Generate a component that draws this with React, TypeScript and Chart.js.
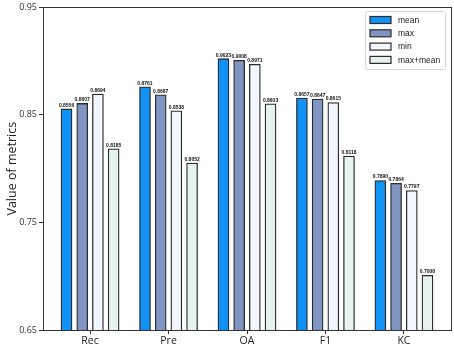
import React, { useEffect, useRef } from "react";
import { Chart, registerables } from "chart.js";

Chart.register(...registerables);

const categories = ["Rec", "Pre", "OA", "F1", "KC"];
const seriesNames = ["mean", "max", "min", "max+mean"];
const meanValues = [0.8556, 0.8761, 0.9023, 0.8657, 0.789];
const maxValues = [0.8607, 0.8687, 0.9008, 0.8647, 0.7864];
const minValues = [0.8694, 0.8538, 0.8971, 0.8615, 0.7797];
const maxMeanValues = [0.8185, 0.8052, 0.8603, 0.8118, 0.7008];
const yTicks = [0.65, 0.75, 0.85, 0.95];

const seriesValues = [meanValues, maxValues, minValues, maxMeanValues];
const colors = ["#1192F5", "#8095C2", "#F2F6FE", "#E5F3EE"];
const edge = "#2b2b2b";

const boxPlugin = {
  id: "boxAndLabels",
  afterDatasetsDraw(chart: any) {
    const { ctx, chartArea } = chart;
    ctx.save();
    // value labels
    ctx.font = "bold 5px 'Liberation Sans'";
    ctx.fillStyle = "#111";
    ctx.textAlign = "center";
    ctx.textBaseline = "bottom";
    chart.data.datasets.forEach((ds: any, di: number) => {
      const meta = chart.getDatasetMeta(di);
      meta.data.forEach((bar: any, i: number) => {
        const v = seriesValues[di][i];
        ctx.fillText(v.toFixed(4), bar.x, bar.y - 1);
      });
    });
    // frame
    ctx.strokeStyle = "#333";
    ctx.lineWidth = 1;
    ctx.strokeRect(
      Math.round(chartArea.left) + 0.5,
      Math.round(chartArea.top) + 0.5,
      Math.round(chartArea.right - chartArea.left),
      Math.round(chartArea.bottom - chartArea.top)
    );
    // legend
    const lx = 365, ly = 11, lw = 80, lh = 58;
    ctx.fillStyle = "rgba(255,255,255,0.9)";
    ctx.strokeStyle = "#d6d6d6";
    ctx.lineWidth = 1;
    ctx.beginPath();
    ctx.roundRect(lx + 0.5, ly + 0.5, lw, lh, 2);
    ctx.fill();
    ctx.stroke();
    ctx.font = "8.5px 'Liberation Sans'";
    ctx.textAlign = "left";
    ctx.textBaseline = "middle";
    seriesNames.forEach((name, i) => {
      const cy = ly + 9 + i * 13.3;
      ctx.fillStyle = colors[i];
      ctx.fillRect(370, cy - 3.5, 21, 7);
      ctx.strokeStyle = edge;
      ctx.lineWidth = 1.2;
      ctx.strokeRect(370, cy - 3.5, 21, 7);
      ctx.fillStyle = "#222";
      ctx.fillText(name, 398, cy + 0.5);
    });
    ctx.restore();
  },
};

export default function App() {
  const ref = useRef<HTMLCanvasElement>(null);
  useEffect(() => {
    document.body.style.margin = "0";
    const offsets = [-0.3, -0.1, 0.1, 0.3];
    const chart = new Chart(ref.current!, {
      type: "bar",
      data: {
        datasets: seriesValues.map((vals, di) => ({
          label: seriesNames[di],
          data: vals.map((v, i) => ({ x: i + offsets[di], y: v })),
          backgroundColor: colors[di],
          borderColor: edge,
          borderWidth: 1.3,
          borderSkipped: "bottom",
          barThickness: 11,
          grouped: false,
        })),
      },
      options: {
        animation: false,
        responsive: false,
        layout: { padding: { top: 6, right: 3, left: 0, bottom: 0 } },
        plugins: { legend: { display: false }, tooltip: { enabled: false } },
        scales: {
          x: {
            type: "linear",
            min: -0.6,
            max: 4.6,
            offset: false,
            afterBuildTicks: (s: any) => {
              s.ticks = categories.map((_, i) => ({ value: i }));
            },
            afterFit: (s: any) => {
              s.height = 21;
            },
            ticks: {
              callback: (v: any) => categories[Math.round(v)],
              font: { family: "'Open Sans'", size: 10.5 },
              color: "#222",
              padding: 1,
              maxRotation: 0,
              autoSkip: false,
            },
            grid: { drawOnChartArea: false, offset: false, tickLength: 4, color: "#333" },
            border: { color: "#333" },
          },
          y: {
            min: 0.65,
            max: 0.95,
            afterBuildTicks: (s: any) => {
              s.ticks = yTicks.map((v) => ({ value: v }));
            },
            afterFit: (s: any) => {
              s.width = 43;
            },
            ticks: {
              callback: (v: any) => Number(v).toFixed(2),
              font: { family: "'Open Sans'", size: 9 },
              color: "#333",
              padding: 2,
            },
            grid: { drawOnChartArea: false, tickLength: 4, color: "#333" },
            border: { color: "#333" },
            title: {
              display: true,
              text: "Value of metrics",
              font: { family: "'Open Sans'", size: 12.5 },
              color: "#222",
              padding: { top: 5, bottom: 0 },
            },
          },
        },
      },
      plugins: [boxPlugin],
    } as any);
    return () => chart.destroy();
  }, []);
  return (
    <div style={{ width: 454, height: 351 }}>
      <canvas ref={ref} width={454} height={351} style={{ display: "block" }} />
    </div>
  );
}
